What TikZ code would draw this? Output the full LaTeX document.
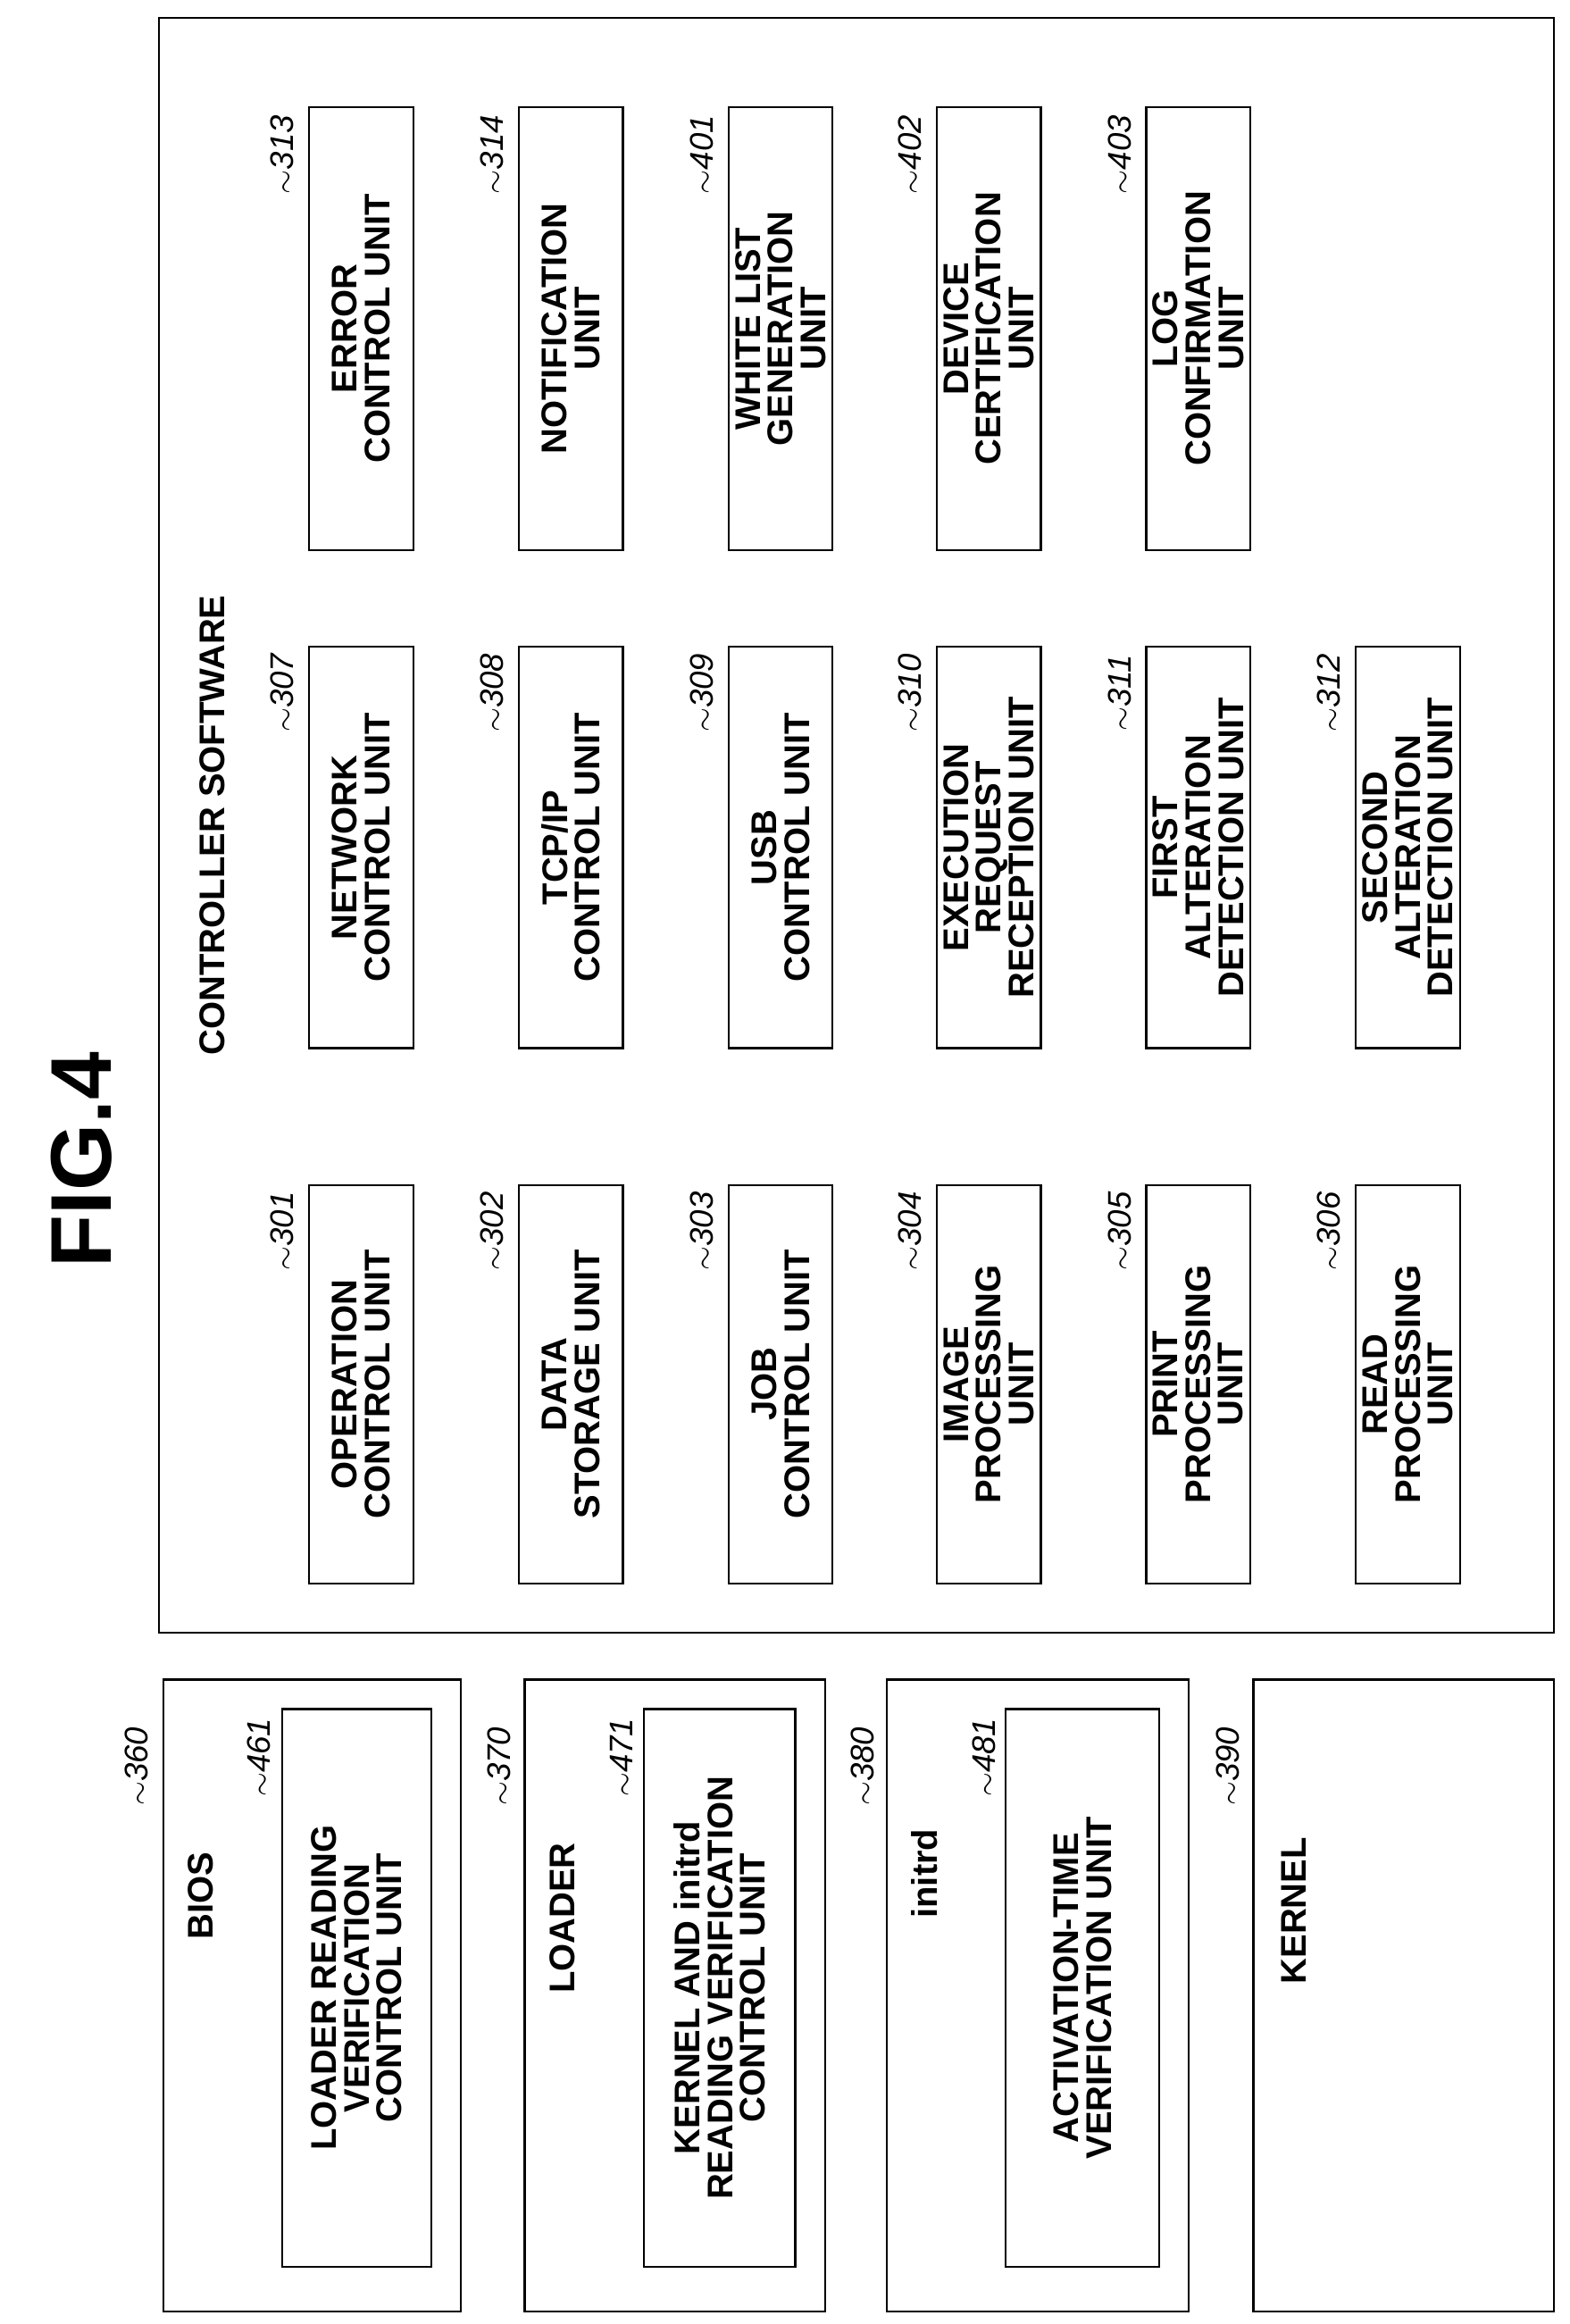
\documentclass[tikz,border=0pt]{standalone}
\usepackage{fontspec}
\setmainfont{Liberation Sans}
\begin{document}
\begin{tikzpicture}[x=1pt,y=-1pt,
  unitbox/.style={draw, line width=1.4pt, rotate=90, align=center, inner sep=0pt,
    font=\fontsize{24}{22}\selectfont\bfseries},
  reflabel/.style={rotate=90, font=\fontsize{22}{22}\selectfont\itshape},
  headlabel/.style={rotate=90, font=\fontsize{24}{24}\selectfont\bfseries}]
  \useasboundingbox (0,0) rectangle (1056,1563);
  \node[rotate=90, font=\fontsize{58}{58}\selectfont\bfseries] (fig) at (55,780) {FIG.4};
  % controller software
  \node[draw, line width=1.2pt, minimum width=1086pt, minimum height=938pt, rotate=90] (ctrl) at (576,555) {};
  \node[headlabel] (ctrllabel) at (143,555) {CONTROLLER SOFTWARE};
  \node[unitbox, minimum width=268pt, minimum height=70pt] (u301) at (243,931) {OPERATION\\CONTROL UNIT};
  \node[unitbox, minimum width=268pt, minimum height=70pt] (u302) at (384,931) {DATA\\STORAGE UNIT};
  \node[unitbox, minimum width=268pt, minimum height=70pt] (u303) at (525,931) {JOB\\CONTROL UNIT};
  \node[unitbox, minimum width=268pt, minimum height=70pt] (u304) at (665,931) {IMAGE\\PROCESSING\\UNIT};
  \node[unitbox, minimum width=268pt, minimum height=70pt] (u305) at (806,931) {PRINT\\PROCESSING\\UNIT};
  \node[unitbox, minimum width=268pt, minimum height=70pt] (u306) at (947,931) {READ\\PROCESSING\\UNIT};
  \node[unitbox, minimum width=270pt, minimum height=70pt] (u307) at (243,570) {NETWORK\\CONTROL UNIT};
  \node[unitbox, minimum width=270pt, minimum height=70pt] (u308) at (384,570) {TCP/IP\\CONTROL UNIT};
  \node[unitbox, minimum width=270pt, minimum height=70pt] (u309) at (525,570) {USB\\CONTROL UNIT};
  \node[unitbox, minimum width=270pt, minimum height=70pt] (u310) at (665,570) {EXECUTION\\REQUEST\\RECEPTION UNIT};
  \node[unitbox, minimum width=270pt, minimum height=70pt] (u311) at (806,570) {FIRST\\ALTERATION\\DETECTION UNIT};
  \node[unitbox, minimum width=270pt, minimum height=70pt] (u312) at (947,570) {SECOND\\ALTERATION\\DETECTION UNIT};
  \node[unitbox, minimum width=298pt, minimum height=70pt] (u313) at (243,221) {ERROR\\CONTROL UNIT};
  \node[unitbox, minimum width=298pt, minimum height=70pt] (u314) at (384,221) {NOTIFICATION\\UNIT};
  \node[unitbox, minimum width=298pt, minimum height=70pt] (u401) at (525,221) {WHITE LIST\\GENERATION\\UNIT};
  \node[unitbox, minimum width=298pt, minimum height=70pt] (u402) at (665,221) {DEVICE\\CERTIFICATION\\UNIT};
  \node[unitbox, minimum width=298pt, minimum height=70pt] (u403) at (806,221) {LOG\\CONFIRMATION\\UNIT};
  \foreach \nm/\x/\y in {301/190/828, 302/331/828, 303/472/828, 304/612/828, 305/753/828, 306/894/828,
      307/190/466, 308/331/466, 309/472/466, 310/612/466, 311/753/466, 312/894/466,
      313/190/104, 314/331/104, 401/472/104, 402/612/104, 403/753/104}
    \node[reflabel] (r\nm) at (\x,\y) {$\sim$\nm};
  % boot chain
  \node[unitbox, minimum width=425pt, minimum height=200pt] (bios) at (210,1342) {};
  \node[unitbox, minimum width=375pt, minimum height=100pt] (u461) at (240,1337) {LOADER READING\\VERIFICATION\\CONTROL UNIT};
  \node[headlabel] (bioslabel) at (135,1275) {BIOS};
  \node[unitbox, minimum width=425pt, minimum height=202pt] (loader) at (454,1342) {};
  \node[unitbox, minimum width=375pt, minimum height=102pt] (u471) at (484,1337) {KERNEL AND initrd\\READING VERIFICATION\\CONTROL UNIT};
  \node[headlabel] (loaderlabel) at (378,1290) {LOADER};
  \node[unitbox, minimum width=425pt, minimum height=203pt] (initrd) at (698,1342) {};
  \node[unitbox, minimum width=375pt, minimum height=103pt] (u481) at (728,1337) {ACTIVATION-TIME\\VERIFICATION UNIT};
  \node[headlabel] (initrdlabel) at (622,1260) {initrd};
  \node[unitbox, minimum width=425pt, minimum height=202pt] (kernel) at (944,1342) {};
  \node[headlabel] (kernellabel) at (870,1285) {KERNEL};
  \foreach \nm/\x/\y in {360/92/1188, 461/174/1182, 370/336/1188, 471/418/1182,
      380/580/1188, 481/662/1182, 390/826/1188}
    \node[reflabel] (r\nm) at (\x,\y) {$\sim$\nm};
\end{tikzpicture}
\end{document}
